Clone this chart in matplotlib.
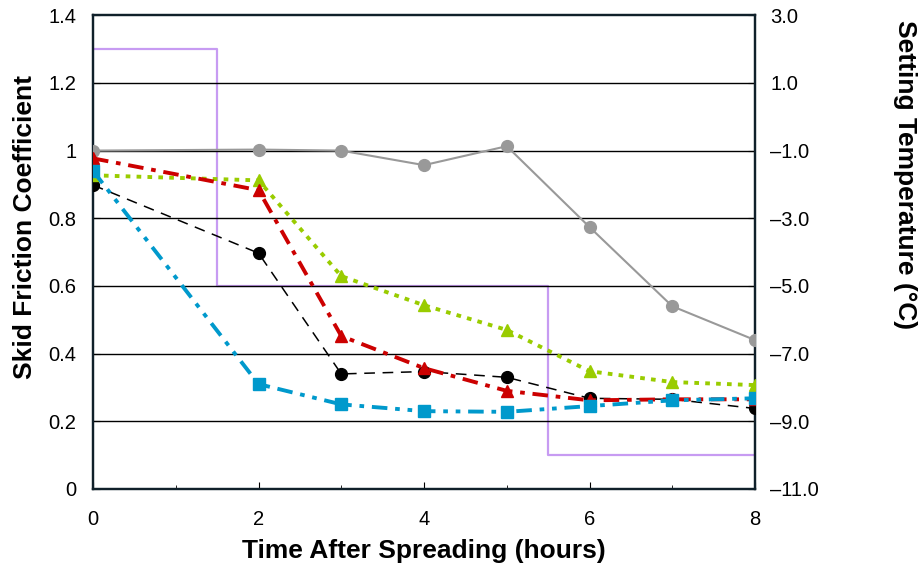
import matplotlib

matplotlib.use("Agg")
import matplotlib.pyplot as plt
from matplotlib.ticker import FixedLocator, FuncFormatter, MultipleLocator

plt.rcParams["font.family"] = ["Liberation Sans", "DejaVu Sans"]

# ---------- Data --------------------------------------------------------------

hours = [0, 2, 3, 4, 5, 6, 7, 8]

gray_vals = [1.00, 1.003, 1.00, 0.957, 1.013, 0.774, 0.54, 0.44]
black_vals = [0.898, 0.697, 0.34, 0.347, 0.33, 0.268, 0.265, 0.238]
red_vals = [0.977, 0.883, 0.452, 0.357, 0.29, 0.262, 0.265, 0.265]
green_vals = [0.927, 0.912, 0.629, 0.543, 0.47, 0.348, 0.316, 0.307]
blue_vals = [0.94, 0.31, 0.25, 0.23, 0.228, 0.245, 0.262, 0.268]

temp_hours = [0, 1.5, 1.5, 5.5, 5.5, 8]
temp_vals = [2.0, 2.0, -5.0, -5.0, -10.0, -10.0]
temp_ticks = [-11, -9, -7, -5, -3, -1, 1, 3]

# ---------- Plot --------------------------------------------------------------

fig = plt.figure(figsize=(9.23, 5.64), dpi=100)
ax = fig.add_axes([0.1008, 0.133, 0.7172, 0.840])
ax2 = ax.twinx()

for y in [0.2, 0.4, 0.6, 0.8, 1.0, 1.2]:
    ax.axhline(y, color="black", lw=1.0, zorder=1)

ax2.plot(temp_hours, temp_vals, color="#c79bf2", lw=1.6, zorder=2)

ax.plot(hours, gray_vals, color="#999999", lw=1.5, marker="o", ms=8.5, zorder=3)
ax.plot(hours, black_vals, color="black", lw=1.1, ls=(0, (7, 5)),
        marker="o", ms=8.5, zorder=4)
ax.plot(hours, green_vals, color="#99cc00", lw=2.8, ls=(0, (1.2, 1.6)),
        marker="^", ms=9, zorder=5)
ax.plot(hours, red_vals, color="#cc0000", lw=2.8, ls=(0, (4, 2, 1.2, 2)),
        marker="^", ms=9, zorder=6)
ax.plot(hours, blue_vals, color="#0099cc", lw=2.8, ls=(0, (4, 2, 1.2, 2, 1.2, 2)),
        marker="s", ms=8.5, zorder=7)

ax.set_zorder(ax2.get_zorder() + 1)
ax.patch.set_visible(False)

ax.set_xlim(0, 8)
ax.set_ylim(0, 1.4)
ax2.set_ylim(-11, 3)

ax.xaxis.set_major_locator(MultipleLocator(2))
ax.xaxis.set_minor_locator(MultipleLocator(1))
ax.yaxis.set_major_locator(MultipleLocator(0.2))
ax.yaxis.set_major_formatter(FuncFormatter(lambda v, _: f"{v:g}"))
ax2.yaxis.set_major_locator(FixedLocator(temp_ticks))
ax2.yaxis.set_major_formatter(FuncFormatter(lambda v, _: f"{v:.1f}".replace("-", "\u2013")))

ax.tick_params(axis="both", which="both", direction="in", labelsize=14.5, length=5)
ax.tick_params(axis="y", pad=12)
ax.tick_params(axis="x", pad=15)
ax.tick_params(axis="x", which="minor", length=3)
ax2.tick_params(axis="y", direction="in", labelsize=14.5, length=5, pad=11)

for a in (ax, ax2):
    for s in a.spines.values():
        s.set_color("#10202a")
        s.set_linewidth(1.6)

ax.set_xlabel("Time After Spreading (hours)", fontsize=19, fontweight="bold", labelpad=7)
ax.set_ylabel("Skid Friction Coefficient", fontsize=19, fontweight="bold", labelpad=8,
              y=0.553)
fig.text(905 / 923, 1 - 175 / 564, "Setting Temperature (\u00b0C)", fontsize=19,
         fontweight="bold", rotation=-90, ha="center", va="center")

fig.savefig("out.png", dpi=100)
